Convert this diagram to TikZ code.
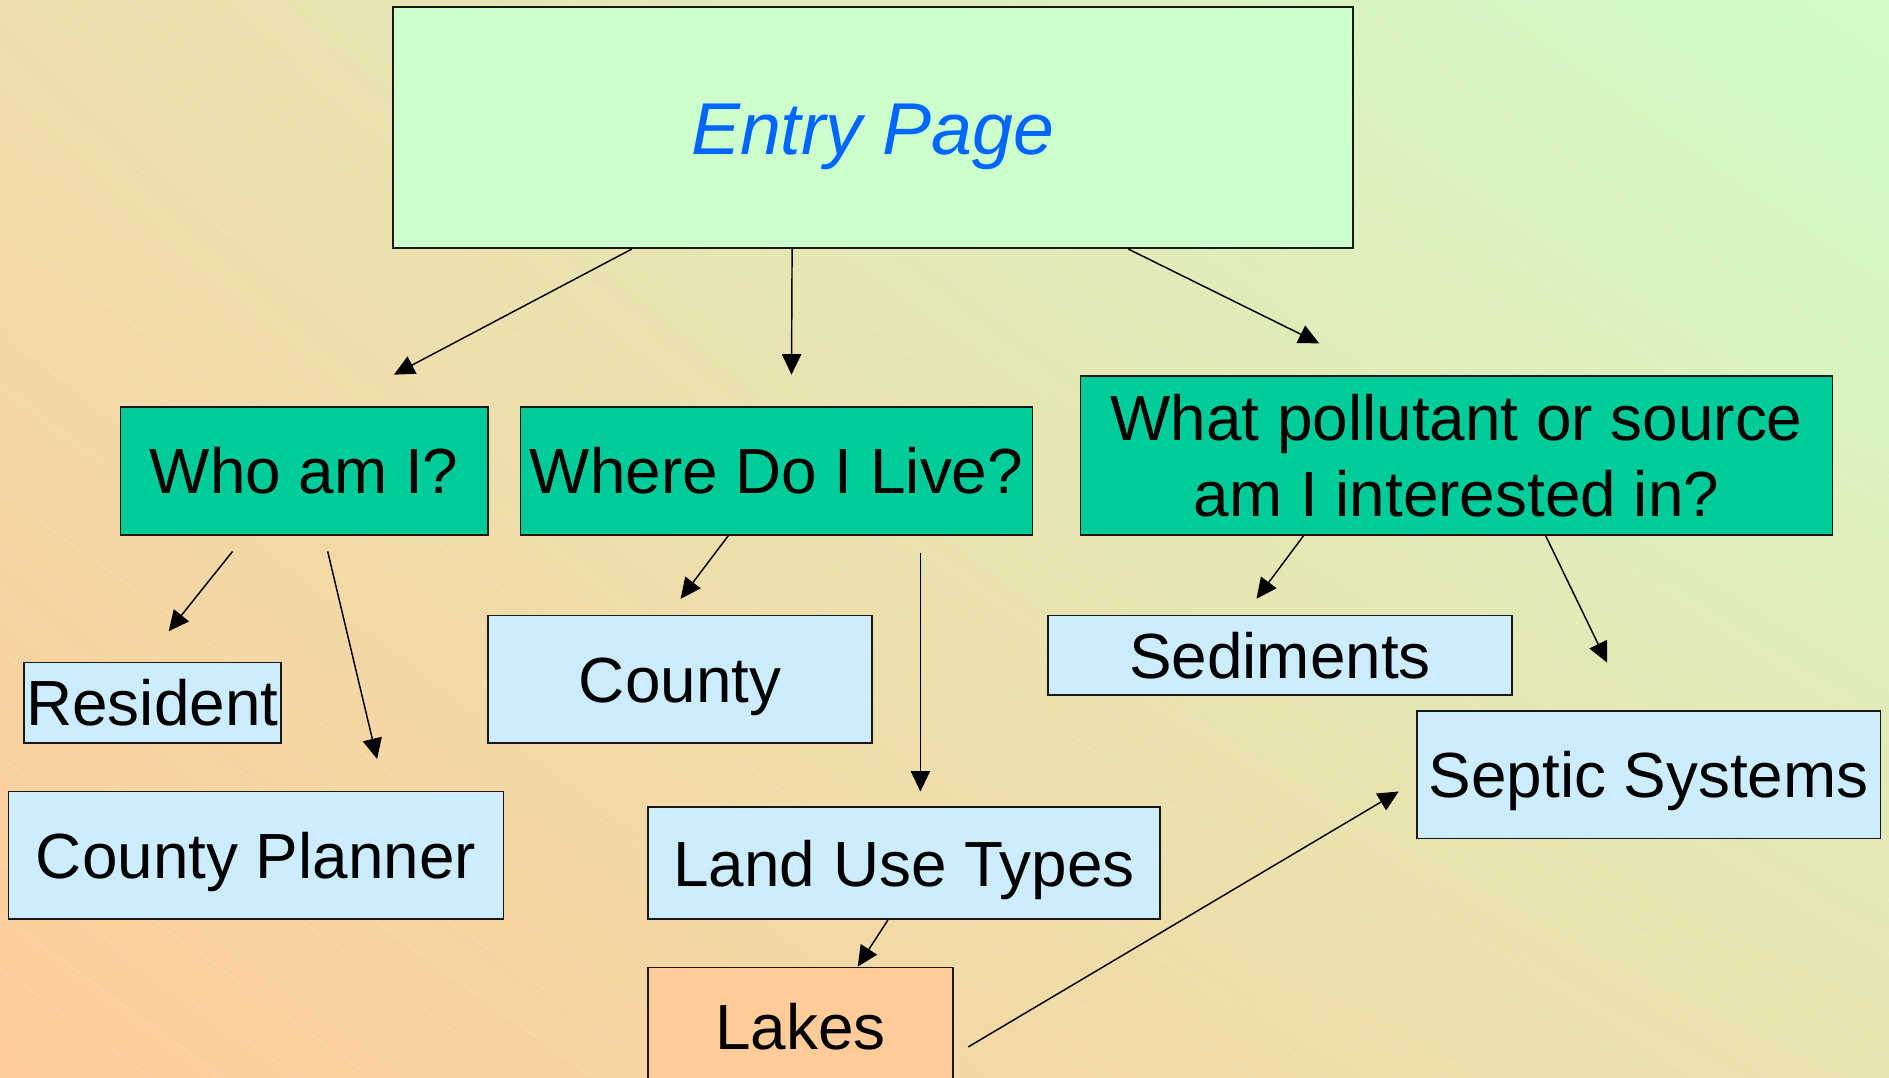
\documentclass[tikz,border=0pt]{standalone}
\usepackage{fontspec}
\setmainfont{Liberation Sans}
\usepackage{tikz}
\usetikzlibrary{arrows.meta,shadings}

\definecolor{entryfill}{HTML}{CCFFCC}
\definecolor{entryblue}{HTML}{0066FF}
\definecolor{askfill}{HTML}{00CC99}
\definecolor{leaffill}{HTML}{CCECFF}
\definecolor{lakefill}{HTML}{FFCC99}
\definecolor{bgtr}{HTML}{D0FCC8}
\definecolor{bgbl}{HTML}{FECC99}
\definecolor{bgtl}{HTML}{EEDEAC}
\definecolor{bgbr}{HTML}{E9E4B0}

\begin{document}
\begin{tikzpicture}[x=1pt,y=-1pt,->,>={Triangle[length=17pt,width=16pt]},
                    line width=1.2pt,
                    box/.style={draw=black!90,line width=1.4pt,inner sep=0pt,
                                font=\fontsize{53}{63}\selectfont,
                                text height=38pt,text depth=0pt},
                    ask/.style={box,fill=askfill},
                    leaf/.style={box,fill=leaffill}]

  \useasboundingbox (0,0) rectangle (1568,894);
  \shade[upper right=bgtr,lower left=bgbl,upper left=bgtl,lower right=bgbr]
    (0,0) rectangle (1568,894);
  \foreach \i in {-1300,-1239,...,1568}
    \draw[-,white,opacity=0.2,line width=0.6pt] (\i,0) -- ++(1242,894);

  \node[box,fill=entryfill,minimum width=797pt,minimum height=200pt,
        font=\fontsize{61}{70}\selectfont\itshape,text=entryblue,
        text height=43.7pt] (Entry) at (724.5,106) {Entry Page};

  \node[ask,minimum width=305pt,minimum height=106pt] (Who) at (252.5,391) {Who am I?};
  \node[ask,minimum width=425pt,minimum height=106pt] (Where) at (644.5,391) {Where Do I Live?};
  \node[ask,minimum width=624pt,minimum height=132pt,align=center,
        text height=101pt] (What) at (1209,378) {What pollutant or source\\am I interested in?};

  \node[leaf,minimum width=213pt,minimum height=67pt] (Res) at (126.5,583.5) {Resident};
  \node[leaf,minimum width=411pt,minimum height=106pt] (Plan) at (212.5,710) {County Planner};
  \node[leaf,minimum width=319pt,minimum height=106pt] (Cty) at (564.5,564) {County};
  \node[leaf,minimum width=425pt,minimum height=93pt] (Land) at (750.5,716.5) {Land Use Types};
  \node[box,fill=lakefill,minimum width=253pt,minimum height=98pt] (Lake) at (664.5,852) {Lakes};
  \node[leaf,minimum width=385pt,minimum height=66pt] (Sed) at (1062.5,544) {Sediments};
  \node[leaf,minimum width=385pt,minimum height=106pt] (Sep) at (1368.5,643) {Septic Systems};

  % free arrow ends
  \coordinate (toWho) at (327,311);
  \coordinate (toWhere) at (657,311);
  \coordinate (toWhat) at (1095,285);
  \coordinate (toRes) at (140,524);
  \coordinate (toPlan) at (313,630);
  \coordinate (toCty) at (565,497);
  \coordinate (toLand) at (764,657);
  \coordinate (toSed) at (1043,497);
  \coordinate (toSep) at (1334,550);
  \coordinate (toSepB) at (1161,657);

  \path ([xshift=-200pt]Entry.south) edge (toWho)
        ([xshift=-67pt]Entry.south) edge (toWhere)
        ([xshift=212pt]Entry.south) edge (toWhat)
        ([xshift=-59.5pt,yshift=-13pt]Who.south) edge (toRes)
        ([xshift=19.5pt,yshift=-13pt]Who.south) edge (toPlan)
        ([xshift=-40pt]Where.south) edge (toCty)
        ([xshift=119.5pt,yshift=-14pt]Where.south) edge (toLand)
        ([xshift=-127pt]What.south) edge (toSed)
        ([xshift=74pt]What.south) edge (toSep)
        ([xshift=-13.5pt]Land.south) edge ([xshift=47.5pt]Lake.north)
        ([xshift=12pt,yshift=-17pt]Lake.east) edge (toSepB);
\end{tikzpicture}
\end{document}
